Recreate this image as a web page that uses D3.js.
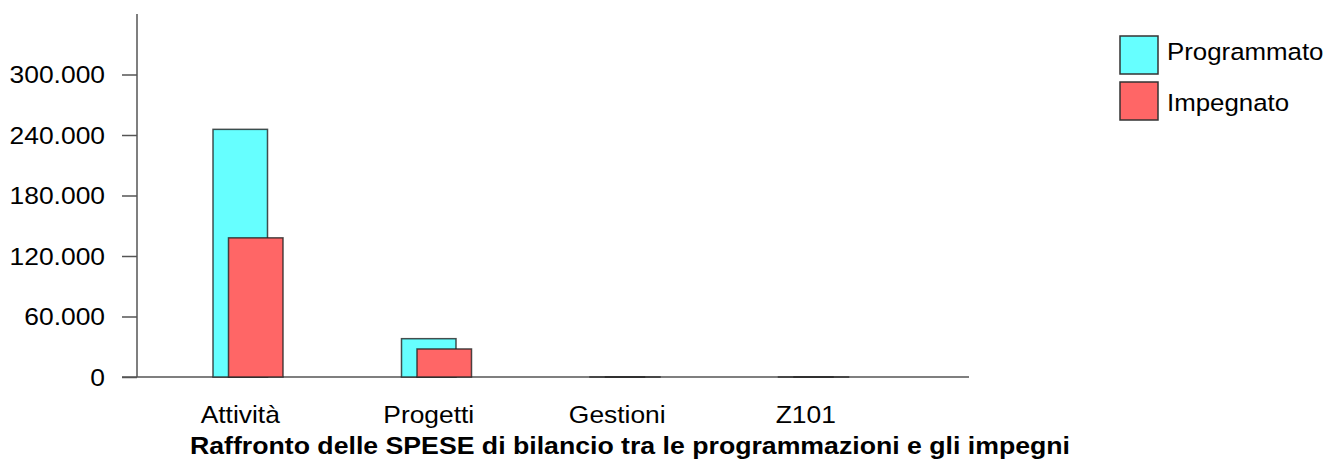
<!DOCTYPE html>
<html>
<head>
<meta charset="utf-8">
<title>Raffronto delle SPESE</title>
<script src="https://cdn.jsdelivr.net/npm/d3@7"></script>
<style>
  html, body { margin: 0; padding: 0; background: #fff; }
  svg { display: block; font-family: "Liberation Sans", Arial, sans-serif; }
  .axis line, .axis path { stroke: #555; stroke-width: 1.5px; }
</style>
</head>
<body>
<div id="chart"></div>
<script>
// dati
var categories = ['Attività', 'Progetti', 'Gestioni', 'Z101'];
var programmato = [245600, 38000, 0, 0];
var impegnato = [138000, 27800, 0, 0];
var seriesNames = ['Programmato', 'Impegnato'];
var seriesColors = ['#66ffff', '#ff6666'];
var yTicks = [0, 60000, 120000, 180000, 240000, 300000];
var title = 'Raffronto delle SPESE di bilancio tra le programmazioni e gli impegni';

var width = 1331, height = 466;
var svg = d3.select('#chart').append('svg')
    .attr('width', width)
    .attr('height', height);

var x0 = 137, yBase = 377;

var x = d3.scaleBand()
    .domain(categories)
    .range([146, 900])
    .padding(0);

var y = d3.scaleLinear()
    .domain([0, 360000])
    .range([yBase, 14]);

var it = d3.formatLocale({decimal: ',', thousands: '.', grouping: [3], currency: ['€', '']});
var fmt = it.format(',d');

// testo un po' "largo" come nell'originale
function wideText(g, px, py, str, size, sx, anchor, weight) {
    return g.append('text')
        .attr('transform', 'translate(' + px + ',' + py + ') scale(' + sx + ',1)')
        .attr('text-anchor', anchor || 'start')
        .attr('font-size', size)
        .attr('font-weight', weight || 'normal')
        .attr('fill', '#000')
        .text(str);
}

// asse Y
var yAxis = svg.append('g')
    .attr('class', 'axis')
    .attr('transform', 'translate(' + x0 + ',0)')
    .call(d3.axisLeft(y).tickValues(yTicks).tickFormat(fmt).tickSize(15).tickSizeOuter(0));
yAxis.select('.domain').attr('d', 'M0,' + y(360000) + 'V' + yBase);
yAxis.selectAll('.tick text').remove();
yTicks.forEach(function(v) {
    wideText(svg, 105, y(v) + 8.5, fmt(v), 24, 1.1, 'end');
});

// linea base
svg.append('line')
    .attr('x1', 122).attr('x2', 969)
    .attr('y1', yBase).attr('y2', yBase)
    .attr('stroke', '#555').attr('stroke-width', 1.5);

var bw = 54.5, off = 15.5;
var data = [programmato, impegnato];

data.forEach(function(vals, s) {
    svg.append('g').selectAll('rect')
        .data(vals)
        .enter()
        .append('rect')
        .attr('x', function(d, i) { return x(categories[i]) + x.bandwidth() / 2 - bw / 2 + s * off; })
        .attr('y', function(d) { return y(d); })
        .attr('width', bw)
        .attr('height', function(d) { return Math.max(yBase - y(d), 0.01); })
        .attr('fill', seriesColors[s])
        .attr('stroke', '#222')
        .attr('stroke-opacity', 0.8)
        .attr('stroke-width', 1.5);
});

// etichette categorie
categories.forEach(function(c) {
    wideText(svg, x(c) + x.bandwidth() / 2, 423, c, 24, 1.1, 'middle');
});

// titolo
wideText(svg, 630, 454, title, 23, 1.16, 'middle', 'bold');

// legenda
seriesNames.forEach(function(n, i) {
    var gy = 36 + i * 46;
    svg.append('rect')
        .attr('x', 1120).attr('y', gy)
        .attr('width', 38).attr('height', 38)
        .attr('fill', seriesColors[i])
        .attr('stroke', '#333').attr('stroke-width', 1.5);
    wideText(svg, 1167, 59.5 + i * 51, n, 23.5, 1.1, 'start');
});
</script>
</body>
</html>
